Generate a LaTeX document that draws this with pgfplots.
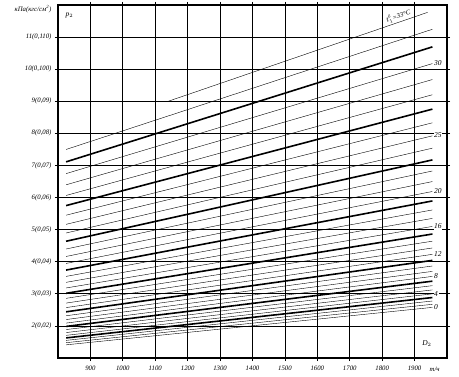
\documentclass[border=0pt]{standalone}
\usepackage{fontspec}
\setmainfont{Liberation Serif}
\usepackage{amsmath}
\usepackage{pgfplots}
\pgfplotsset{compat=1.18}
\begin{document}
\begin{tikzpicture}
\begin{axis}[
  at={(0,0)}, anchor=south west,
  width=389bp, height=353bp, scale only axis,
  xmin=800, xmax=2000, ymin=1, ymax=12,
  xtick={900,1000,1100,1200,1300,1400,1500,1600,1700,1800,1900},
  xticklabels={900,1000,1100,1200,1300,1400,1500,1600,1700,1800,1900},
  ytick={2,3,4,5,6,7,8,9,10,11},
  yticklabels={{2(0,02)},{3(0,03)},{4(0,04)},{5(0,05)},{6(0,06)},{7(0,07)},{8(0,08)},{9(0,09)},{10(0,100)},{11(0,110)}},
  grid=major, grid style={black, line width=0.8bp},
  axis line style={black, line width=1.3bp},
  tick style={black, line width=0.8bp},
  tick align=outside, major tick length=3bp,
  ticklabel style={font=\fontsize{6.8}{7}\selectfont\itshape},
  xticklabel style={yshift=-1.5bp},
  clip=false,
  cycle list={{black, solid, no markers, line width=1.6bp}},
]
% lines t = 0 ... 32 (start 825, end 1955)
\addplot coordinates {(825,1.410) (1955,2.577)};
\addplot coordinates {(825,1.477) (1955,2.673)};
\addplot coordinates {(825,1.549) (1955,2.776)};
\addplot coordinates {(825,1.626) (1955,2.884)};
\addplot coordinates {(825,1.706) (1955,2.999)};
\addplot coordinates {(825,1.793) (1955,3.122)};
\addplot coordinates {(825,1.886) (1955,3.254)};
\addplot coordinates {(825,1.984) (1955,3.394)};
\addplot coordinates {(825,2.088) (1955,3.543)};
\addplot coordinates {(825,2.198) (1955,3.699)};
\addplot coordinates {(825,2.316) (1955,3.867)};
\addplot coordinates {(825,2.439) (1955,4.042)};
\addplot coordinates {(825,2.571) (1955,4.230)};
\addplot coordinates {(825,2.711) (1955,4.429)};
\addplot coordinates {(825,2.859) (1955,4.640)};
\addplot coordinates {(825,3.016) (1955,4.863)};
\addplot coordinates {(825,3.182) (1955,5.100)};
\addplot coordinates {(825,3.358) (1955,5.350)};
\addplot coordinates {(825,3.543) (1955,5.614)};
\addplot coordinates {(825,3.740) (1955,5.894)};
\addplot coordinates {(825,3.947) (1955,6.189)};
\addplot coordinates {(825,4.164) (1955,6.498)};
\addplot coordinates {(825,4.396) (1955,6.828)};
\addplot coordinates {(825,4.638) (1955,7.173)};
\addplot coordinates {(825,4.895) (1955,7.539)};
\addplot coordinates {(825,5.165) (1955,7.923)};
\addplot coordinates {(825,5.450) (1955,8.329)};
\addplot coordinates {(825,5.749) (1955,8.755)};
\addplot coordinates {(825,6.065) (1955,9.204)};
\addplot coordinates {(825,6.397) (1955,9.677)};
\addplot coordinates {(825,6.746) (1955,10.174)};
\addplot coordinates {(825,7.112) (1955,10.695)};
\addplot coordinates {(825,7.498) (1955,11.244)};
% t = 33
\addplot coordinates {(1140,9.00) (1940,11.77)};

\node[rotate=19, anchor=south, inner sep=1.5bp, font=\fontsize{6.8}{7}\selectfont\itshape]
  at (axis cs:1855,11.48) {$t_{1}^{\text{б}}$=33°C};

\begin{scope}[every node/.style={anchor=west, fill=white, inner sep=0.6bp, font=\fontsize{7.5}{8}\selectfont\itshape}]
\node at (axis cs:1958,10.20) {30};
\node at (axis cs:1958,7.95) {25};
\node at (axis cs:1958,6.19) {20};
\node at (axis cs:1958,5.10) {16};
\node at (axis cs:1958,4.23) {12};
\node at (axis cs:1958,3.54) {8};
\node at (axis cs:1958,3.00) {4};
\node at (axis cs:1958,2.58) {0};
\end{scope}

\node[font=\fontsize{7.5}{8}\selectfont\itshape] at (axis cs:835,11.68) {p$_2$};
\node[font=\fontsize{7.5}{8}\selectfont\itshape] at (axis cs:1938,1.45) {D$_2$};
\node[font=\fontsize{6.8}{7}\selectfont\itshape] at (axis cs:1962,0.66) {т/ч};
\end{axis}
\node[anchor=east, font=\fontsize{6.8}{7}\selectfont\itshape] at (-3bp,349bp) {кПа(кгс/см\textsuperscript{2})};
\pgfresetboundingbox
\path[use as bounding box] (-58bp,-19bp) rectangle (401bp,358bp);
\end{tikzpicture}
\end{document}
